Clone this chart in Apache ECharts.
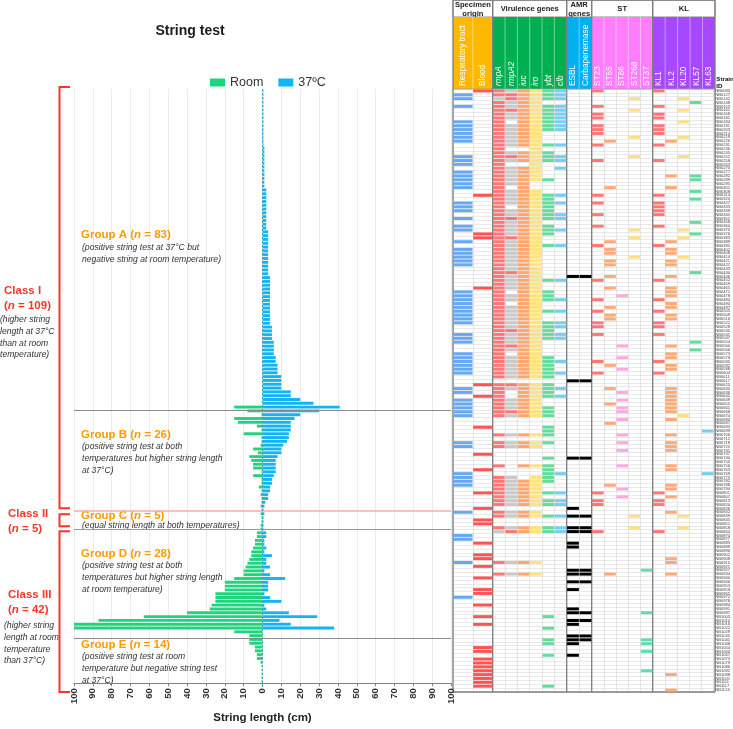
<!DOCTYPE html>
<html><head><meta charset="utf-8">
<script src="https://cdn.jsdelivr.net/npm/echarts@6/dist/echarts.min.js"></script>
<style>html,body{margin:0;padding:0;background:#fff;overflow:hidden}#chart{width:733px;height:729px}</style>
</head><body><div id="chart"></div>
<script>
// ---------------- DATA ----------------
const groupNames = ['A','B','C','D','E'];
const groupSizes = [83, 26, 5, 28, 14];

// string length at room temperature (cm), per group, top to bottom
const roomA = [0,0,0,0,0,0,0,0,0,0, 0,0,0,0,0,0,0,0,0,0, 0,0,0,0,0,0,0,0,0,0, 0,0,0,0,0,0,0,0,0,0,
  0,0,0,0,0,0,0,0,0,0, 0,0,0,0,0,0,0,0,0,0, 0,0,0,0,0,0,0,0,0,0, 0,0,0,0,0,0,0,0,0,0, 0,0,0];
const roomB = [15,8,0.5,15,13,3,0.5,10,0.5,0.5,1,5,2.5,7,6,5,5,0.5,5,0.5,0.5,2,0.5,1,0.5,0.5];
const roomC = [1,0.5,1,0.5,0.5];
const roomD = [1,1,3,3,4,4,5,6,6,7,8,9,10,10,15,20,20,20,25,25,25,27,28,40,63,87,100,100];
const roomE = [15,7,7,7,4,4,3,3,1,0.5,0.5,0.5,0.5,0.5];

// string length at 37 °C (cm)
const warmA = [0.5,0.5,0.5,0.5,0.5,0.5,0.5,0.5,0.5,0.5,0.5,0.5,0.5,0.5,0.5,
  1,1,1,1,1,1,1,1,1,1,1, 2,2,2,2,2,2,2,2,2,2,2, 3,3,3,3,3,3,3,3,3,3,3,3,
  4,4,4,4,4,4,4,4,4,4,4,4,4, 5,5,5,5, 6,6,6,6, 7,7, 8,8,8, 10,10,10,10, 15,15, 20, 27];
const warmB = [41,30,20,17,15,15,15,14,14,13,11,10,10,8,7,7,7,7,6,5,5,4,4,3,3,1.5];
const warmC = [1,0.5,1,0.5,0.5];
const warmD = [0.5,0.5,2,2,1,1,2,1,5,2,2,4,1,4,12,3,3,3,1,4,10,1,2,14,29,9,15,38];
const warmE = [0,0,0,0,0,0,0,0,0,0,0,0,0,0];

const strainIds = ('NB0083 NB0127 NB0142 NB0148 NB0153 NB0161 NB0168 NB0181 NB0184 NB0191 ' +
 'NB0203 NB0214 NB0219 NB0226 NB0231 NB0236 NB0245 NB0252 NB0258 NB0263 ' +
 'NB0270 NB0277 NB0282 NB0289 NB0295 NB0301 NB0308 NB0314 NB0320 NB0327 ' +
 'NB0333 NB0339 NB0345 NB0351 NB0358 NB0364 NB0370 NB0376 NB0383 NB0389 ' +
 'NB0395 NB0402 NB0408 NB0414 NB0421 NB0427 NB0433 NB0440 NB0446 NB0452 ' +
 'NB0459 NB0465 NB0471 NB0478 NB0484 NB0490 NB0497 NB0503 NB0509 NB0516 ' +
 'NB0522 NB0528 NB0535 NB0541 NB0547 NB0554 NB0560 NB0566 NB0573 NB0579 ' +
 'NB0585 NB0592 NB0598 NB0604 NB0611 NB0617 NB0623 NB0630 NB0636 NB0642 ' +
 'NB0649 NB0655 NB0661 NB0668 NB0674 NB0680 NB0687 NB0693 NB0699 NB0706 ' +
 'NB0712 NB0718 NB0725 NB0731 NB0737 NB0744 NB0750 NB0756 NB0763 NB0769 ' +
 'NB0775 NB0782 NB0788 NB0794 NB0801 NB0807 NB0813 NB0820 NB0826 NB0832 ' +
 'NB0839 NB0845 NB0851 NB0858 NB0864 NB0870 NB0877 NB0883 NB0889 NB0896 ' +
 'NB0902 NB0908 NB0915 NB0921 NB0927 NB0934 NB0940 NB0946 NB0953 NB0959 ' +
 'NB0965 NB0972 NB0978 NB0984 NB0991 NB0997 NB1003 NB1010 NB1016 NB1022 ' +
 'NB1029 NB1035 NB1041 NB1048 NB1054 NB1060 NB1067 NB1073 NB1079 NB1086 ' +
 'NB1092 NB1098 NB1105 NB1111 NB1117 NB1124').split(' ');

// heatmap columns: one char per strain, x = present, g = present (grey), . = absent
const columnNames = ['Respiratory tract','Blood','rmpA','rmpA2','iuc','iro','ybt','clb','ESBL','Carbapenemase',
  'ST23','ST65','ST86','ST268','ST37','KL1','KL2','KL20','KL57','KL63'];
const respiratoryTract = ".xx.x...xx xxxx...xxx .xxxxx...x xx.x.xx..x .xxxxx.... ..xxxxxxxx x..xxx..xx xxxx...xx. xxxxx..... .xx......x xxx......x .....xx... ..x....... .x........ .......... ......";
const blood          = "x......... .......... .......x.. .......xx. .......... .x........ .......... ......x..x .......x.. ....x...x. ....x...x. .xx....x.. xx.x..x..x x..x..x.x. ....xx.xxx xxxxx.";
const rmpA           = "xxgxxxxxxx xxxxxxxxxx xxxxxxxxxx xxxxxxxxxx xxxxxxxxxx xxxxxxxxxx xxxxxxxxxx xxxxx.xxxx xxxxx....x .xx....x.. xxxxxxxx.x x..xg..... ..x..x.... .......... .......... ......";
const rmpA2          = "gxxggxgg.g ggggg.gxg. ggggg.gggg .ggxggggxg gggggggxgg gg.gg.gggg ggxgggxg.g ggggg.xg.. gggxg....g .gg....... gggggggg.g g..gx..... ..g..g.... .......... .......... ......";
const iuc            = "xxxxxxxxxx xxxxx.xxx. xxxxxxxxxx xxxxxxxxxx xxxxxxxxxx xxxxxxxxxx xxxxxxxxxx xxxxx.xxxx xxxxx....x .xx....x.. .xxxxxxx.x x..xx..... ..x..x.... .......... .......... ......";
const iro            = "xxxxxxxxxx xxxxxxxxxx xxxx..xxxx xxxxxxxxxx xxxxxxxxxx xxxxxxxxxx xxxxxxxxxx xxxxx.xxxx xxxxx....x .xx....x.. xxxxxxxx.x x..xx..... ..x..x.... .......... .......... ......";
const ybt            = "xxx.xxxxxx x...x.xxx. ...x...xxx xxxx.xxx.. x........x ..xxx..x.. xxxxx....x xxxxx.xxxx ..xxx..xxx .x...x.xxx xx..x.xx.. x..xx..... .......... ......x..x ..xx..x... ....x.";
const clb            = "xxx.xxxxxx x...x..xx. x......x.x ..xx..x... x........x ....x..x.. xx.xx..... x..x...x.x .......... .........x ....x.xx.. x..xx..... .......... .......... .......... ......";
const esbl           = ".......... .......... .......... .......... ........x. .......... .......... .....x.... .......... .....x.... ........x. x..xx..xx. ....xx.x.x ....xx.xx. .xxx..x... ......";
const carbapenemase  = ".......... .......... .......... .......... ........x. .......... .......... .....x.... .......... .....x.... .......... x..xx..... ....xx.x.. .....x.x.. .xx....... ......";
const st23           = "x...x.xx.x xx..x...x. .......x.x ..x..x.... x........x ....x..x.. xx.x...... x..x...... .......... .......... ....x.xx.. ....x..... .......... .......... .......... ......";
const st65           = ".......... ...x...... .....x.... .........x .xx.xx..x. .x....x.xx .......... .x.....x.. .x....x... .......... ..x....... .......... .....x.... .......... .......... ......";
const st86           = ".......... .......... .......... .......... .......... ...x...... ......x..x ..x.....x. x.xx.x...x .x.x...x.. ...x.x.... .......... .......... .......... .......... ......";
const st268          = "..x..x.... ..x....x.. .......... ......x.x. ...x...... .......... .......... .......... .......... .......... .......... x..x...... .......... .......... .......... ......";
const st37           = ".......... .......... .......... .......... .......... .......... .......... .......... .......... .......... .......... .......... ....x..... .....x.... ..xx.x.... x.....";
const kl1            = "x...x.xx.x xx..x...x. .......x.x xxx..x.... x........x ....x..x.. xx.x...... x..x...... .......... .......... ....x.xx.. ....x..... .......... .......... .......... ......";
const kl2            = ".......... ...x...... ..x..x.... .........x .xx.xx..x. .xxx.xx.xx ......x.xx .xx....xxx xxxx.x...x .xxx...xx. ..xx.x...x .......... .xx..x.... .......... .......... .x...x";
const kl20           = "..x..x..x. ..x....x.. .......... ......x.x. ...x...... .......... .......... .......... ....x..... .......... .......... x..x...... .......... .......... .......... ......";
const kl57           = "...x...... .......... ..xx..x.x. ....x..x.. .......x.. .......... .....x.x.. .......... .......... .......... .......... .......... .......... .......... .......... ......";
const kl63           = ".......... .......... .......... .......... .......... .......... .......... .......... ........x. .........x .......... .......... .......... .......... .......... ......";

// ---------------- BUILD ----------------
const roomLength = [...roomA, ...roomB, ...roomC, ...roomD, ...roomE];
const warmLength = [...warmA, ...warmB, ...warmC, ...warmD, ...warmE];
const N = roomLength.length;
const patterns = [respiratoryTract, blood, rmpA, rmpA2, iuc, iro, ybt, clb, esbl, carbapenemase,
  st23, st65, st86, st268, st37, kl1, kl2, kl20, kl57, kl63].map(s => s.replace(/\s+/g, ''));

const FONT = '"Liberation Sans", Arial, Helvetica, sans-serif';
const GREEN = '#1FD47E', BLUE = '#12B4F3', RED = '#F5372A', ORANGE = '#FF9A00', GREY = '#C9C9C9';
const cellColors = ['#66A9F2','#FF5454','#FF7676','#FF7676','#FFA66F','#FFE47C','#63DD9B','#76CEF3','#000000','#000000',
  '#FF7676','#FFAA76','#FFA9DE','#FFE07F','#62DEAC','#FF7676','#FFAA76','#FFE07F','#63DD9B','#76CEF3'];
const italicCols = {2:1,3:1,4:1,5:1,6:1,7:1};

const TOP = 89, H = 603;
const hmGroups = [
  {title:'Specimen\norigin', cols:[0,1], x0:453, x1:492.7, head:'#FFB800'},
  {title:'Virulence genes', cols:[2,3,4,5,6,7], x0:492.7, x1:566.7, head:'#00AF50'},
  {title:'AMR\ngenes', cols:[8,9], x0:566.7, x1:591.7, head:'#00B0F0'},
  {title:'ST', cols:[10,11,12,13,14], x0:591.7, x1:652.7, head:'#FF7EFF'},
  {title:'KL', cols:[15,16,17,18,19], x0:652.7, x1:715, head:'#A548FF'}
];

const grids = [], xAxes = [], yAxes = [], series = [];
// grid 0: butterfly bars
grids.push({left:74, top:TOP, width:377, height:H});
xAxes.push({gridIndex:0, type:'value', min:-100, max:100, interval:10,
  axisLine:{show:true, lineStyle:{color:'#808080'}},
  axisTick:{show:true, length:3, lineStyle:{color:'#808080'}},
  splitLine:{show:true, lineStyle:{color:'#ebebeb', width:1}},
  axisLabel:{rotate:90, fontSize:9.5, fontWeight:'bold', color:'#333', margin:5, fontFamily:FONT,
    formatter: v => String(Math.abs(v))},
  name:'String length (cm)', nameLocation:'middle', nameGap:23,
  nameTextStyle:{fontSize:11.5, fontWeight:'bold', color:'#222', fontFamily:FONT}});
yAxes.push({gridIndex:0, type:'category', data:strainIds, inverse:true, show:false});
series.push({type:'bar', name:'Room', xAxisIndex:0, yAxisIndex:0, stack:'len', barCategoryGap:'24%',
  data: roomLength.map(v => -v), itemStyle:{color:GREEN}, silent:true});
series.push({type:'bar', name:'37ºC', xAxisIndex:0, yAxisIndex:0, stack:'len', barCategoryGap:'24%',
  data: warmLength, itemStyle:{color:BLUE}, silent:true});

// grid 1: overlay with value y axis for group boundaries
grids.push({left:74, top:TOP, width:377, height:H});
xAxes.push({gridIndex:1, type:'value', min:-100, max:100, show:false});
yAxes.push({gridIndex:1, type:'value', min:0, max:N, inverse:true, show:false});
const bounds = []; { let acc = 0; groupSizes.forEach(s => { acc += s; bounds.push(acc); }); }
series.push({type:'line', xAxisIndex:1, yAxisIndex:1, data:[[0,0]], symbol:'none', lineStyle:{opacity:0}, silent:true,
  markLine:{silent:true, symbol:'none', label:{show:false}, animation:false,
    data:[
      {yAxis:bounds[0], lineStyle:{color:'#8a8a8a', width:1, type:'solid'}},
      {yAxis:bounds[1], lineStyle:{color:'#F7ADA5', width:1.5, type:'solid'}},
      {yAxis:bounds[2], lineStyle:{color:'#F0766C', width:1, type:'solid'}},
      {yAxis:bounds[3], lineStyle:{color:'#8a8a8a', width:1, type:'solid'}},
      {xAxis:0, lineStyle:{color:'#2E93A8', width:0.8, type:[2,2]}}
    ]}});

// heatmap grids
hmGroups.forEach((g, gi) => {
  const idx = grids.length;
  grids.push({left:g.x0, top:TOP, width:g.x1 - g.x0, height:H});
  xAxes.push({gridIndex:idx, type:'category', data:g.cols.map(c => columnNames[c]),
    axisLine:{show:false}, axisTick:{show:false}, axisLabel:{show:false},
    splitLine:{show:true, interval:0, lineStyle:{color:'#d4d4d4', width:0.6}}});
  const last = gi === hmGroups.length - 1;
  yAxes.push({gridIndex:idx, type:'category', data:strainIds, inverse:true, position:'right',
    axisLine:{show:false}, axisTick:{show:false},
    axisLabel:{show:last, interval:0, fontSize:4.1, margin:1.5, color:'#444', fontFamily:FONT},
    splitLine:{show:true, interval:0, lineStyle:{color:'#dadada', width:0.6}}});
  const cells = [];
  g.cols.forEach((c, ci) => {
    const p = patterns[c];
    for (let r = 0; r < N; r++) {
      const ch = p[r];
      if (ch === 'x') cells.push([ci, r, 1, c]);
      else if (ch === 'g') cells.push([ci, r, 2, c]);
    }
  });
  series.push({type:'custom', xAxisIndex:idx, yAxisIndex:idx, data:cells, encode:{x:0, y:1}, silent:true,
    renderItem:(params, api) => {
      const x = api.value(0), y = api.value(1), kind = api.value(2), gc = api.value(3);
      const pt = api.coord([x, y]); const s = api.size([1, 1]);
      return {type:'rect', shape:{x:pt[0]-s[0]/2+0.3, y:pt[1]-s[1]/2+0.45, width:s[0]-0.6, height:s[1]-0.9},
        style:{fill: kind === 2 ? GREY : cellColors[gc]}};
    }});
});

const chart = echarts.init(document.getElementById('chart'), null, {renderer:'canvas'});
chart.setOption({
  animation:false,
  backgroundColor:'#fff',
  textStyle:{fontFamily:FONT},
  legend:{data:['Room','37ºC'], left:205, top:71, icon:'rect', itemWidth:15, itemHeight:8, itemGap:15,
    textStyle:{fontSize:12.5, color:'#333', fontFamily:FONT}},
  grid:grids, xAxis:xAxes, yAxis:yAxes, series:series
});

// ---------------- ANNOTATIONS ----------------
const yPix = r => chart.convertToPixel({gridIndex:1}, [0, r])[1];
const gfx = [];
function txt(x, y, text, font, fill, align) {
  gfx.push({type:'text', x:x, y:y, silent:true, style:{text:text, font:font, fill:fill,
    textAlign:align || 'left', textVerticalAlign:'middle'}});
}
function richTxt(x, y, pre, post, color, size) {
  gfx.push({type:'text', x:x, y:y, silent:true, style:{
    text:'{a|' + pre + '}{b|n}{a|' + post + '}', textVerticalAlign:'middle', textAlign:'left',
    rich:{a:{fontSize:size, fontWeight:'bold', fill:color, fontFamily:FONT},
          b:{fontSize:size, fontWeight:'bold', fontStyle:'italic', fill:color, fontFamily:FONT}}}});
}
const ITAL = 'italic 8.6px ' + FONT;
txt(190, 31, 'String test', 'bold 14px ' + FONT, '#1a1a1a', 'center');

// group labels
const gLab = [
  {t:'Group A (', n:' = 83)', y:235, d:['(positive string test at 37°C but','negative string at room temperature)'], dy:248},
  {t:'Group B (', n:' = 26)', y:435, d:['(positive string test at both','temperatures but higher string length','at 37°C)'], dy:447},
  {t:'Group C (', n:' = 5)', y:516, d:['(equal string length at both temperatures)'], dy:525.5},
  {t:'Group D (', n:' = 28)', y:554, d:['(positive string test at both','temperatures but higher string length','at room temperature)'], dy:566},
  {t:'Group E (', n:' = 14)', y:645, d:['(positive string test at room','temperature but negative string test','at 37°C)'], dy:657}
];
gLab.forEach(g => {
  richTxt(81, g.y, g.t, g.n, ORANGE, 11.5);
  g.d.forEach((line, i) => txt(82, g.dy + i * 11.8, line, ITAL, '#333'));
});

// class labels
txt(4, 291, 'Class I', 'bold 11.5px ' + FONT, RED);
richTxt(4, 306, '(', ' = 109)', RED, 11.5);
['(higher string','length at 37°C','than at room','temperature)'].forEach((l, i) => txt(0, 320 + i * 11.7, l, ITAL, '#333'));
txt(8, 513.5, 'Class II', 'bold 11.5px ' + FONT, RED);
richTxt(8, 528.5, '(', ' = 5)', RED, 11.5);
txt(8, 595, 'Class III', 'bold 11.5px ' + FONT, RED);
richTxt(8, 610, '(', ' = 42)', RED, 11.5);
['(higher string','length at room','temperature','than 37°C)'].forEach((l, i) => txt(4, 626 + i * 11.7, l, ITAL, '#333'));

// class brackets
function bracket(y0, y1) {
  gfx.push({type:'polyline', silent:true, shape:{points:[[70, y0],[59.5, y0],[59.5, y1],[70, y1]]},
    style:{stroke:RED, lineWidth:2, fill:null}});
}
bracket(yPix(0) - 2, yPix(bounds[1]) - 2);
bracket(yPix(bounds[1]) + 4, yPix(bounds[2]) - 3.5);
bracket(yPix(bounds[2]) + 1.5, yPix(N));

// heatmap header
const topY = 0.5, headY = 17, bodyTop = yPix(0), bodyBot = yPix(N);
hmGroups.forEach(g => {
  const w = (g.x1 - g.x0) / g.cols.length;
  gfx.push({type:'rect', silent:true, shape:{x:g.x0, y:topY, width:g.x1 - g.x0, height:headY - topY},
    style:{fill:'#fff', stroke:'#8c8c8c', lineWidth:1}});
  const lines = g.title.split('\n');
  lines.forEach((l, i) => txt((g.x0 + g.x1) / 2, lines.length === 1 ? 9 : 5 + i * 9, l, 'bold 7.6px ' + FONT, '#222', 'center'));
  gfx.push({type:'rect', silent:true, shape:{x:g.x0, y:headY, width:g.x1 - g.x0, height:bodyTop - headY},
    style:{fill:g.head}});
  g.cols.forEach((c, i) => {
    const cx = g.x0 + w * (i + 0.5);
    if (i > 0) gfx.push({type:'line', silent:true, shape:{x1:g.x0 + w * i, y1:headY, x2:g.x0 + w * i, y2:bodyTop},
      style:{stroke:'rgba(255,255,255,0.55)', lineWidth:0.8}});
    gfx.push({type:'text', silent:true, x:cx, y:bodyTop - 3, rotation:Math.PI / 2,
      style:{text:columnNames[c], font:(italicCols[c] ? 'italic ' : '') + '8.3px ' + FONT, fill:'#fff',
        textAlign:'left', textVerticalAlign:'middle'}});
  });
});
// group border lines
const borderXs = [453, 492.7, 566.7, 591.7, 652.7, 715];
borderXs.forEach(x => gfx.push({type:'line', silent:true, shape:{x1:x, y1:0, x2:x, y2:bodyBot},
  style:{stroke:'#7d7d7d', lineWidth:1.3}}));
gfx.push({type:'line', silent:true, shape:{x1:453, y1:bodyBot, x2:715, y2:bodyBot}, style:{stroke:'#7d7d7d', lineWidth:1.3}});
gfx.push({type:'line', silent:true, shape:{x1:453, y1:bodyTop, x2:715, y2:bodyTop}, style:{stroke:'#9a9a9a', lineWidth:0.8}});
txt(716.3, 79, 'Strain', 'bold 6.2px ' + FONT, '#111');
txt(716.3, 86.5, 'ID', 'bold 6.2px ' + FONT, '#111');

chart.setOption({graphic:{elements:gfx}});
</script></body></html>
